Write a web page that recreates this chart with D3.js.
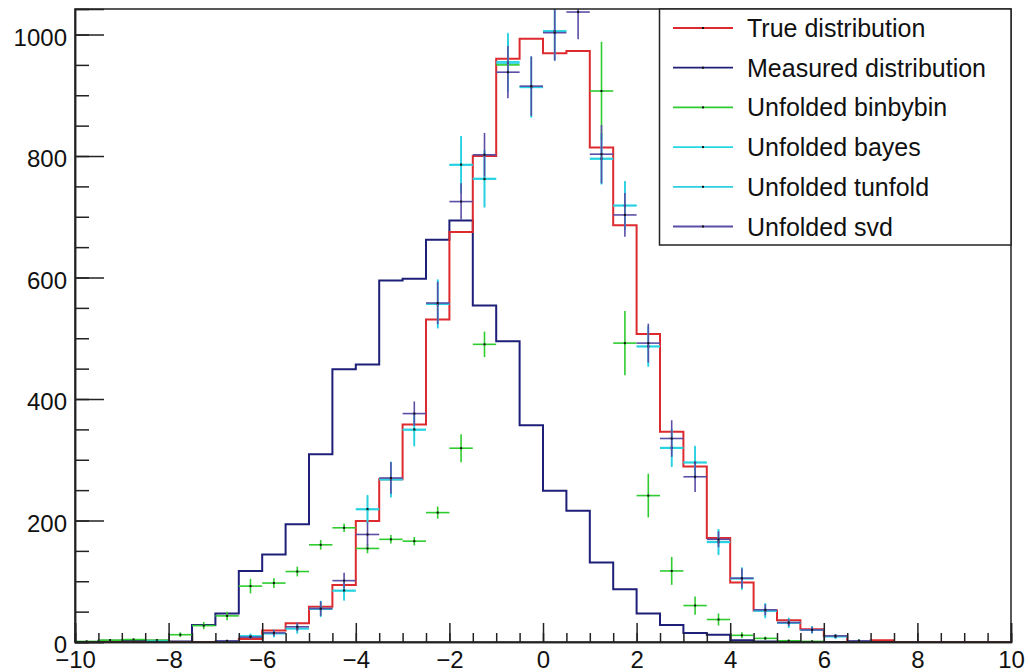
<!DOCTYPE html>
<html>
<head>
<meta charset="utf-8">
<script src="https://cdn.jsdelivr.net/npm/d3@7"></script>
<style>
  body { margin: 0; background: #fff; }
  svg { display: block; font-family: "Liberation Sans", Arial, Helvetica, sans-serif; }
</style>
</head>
<body>
<svg id="chart" width="1030" height="672"></svg>
<script>
// bin edges: 40 bins of width 0.5 between -10 and 10
var binLow = d3.range(40).map(function(i){ return -10 + 0.5*i; });
var binWidth = 0.5;

var trueDist = [0,0,0,0,0,0,1,5,19,31,58,94,199,268,358,531,675,800,960,993,
                969,973,814,686,507,346,289,171,98,52,36,21,10,1,3,0,0,0,0,0];
var measured = [0,2,3,2,1,28,47,117,144,194,309,449,457,595,598,662,694,554,495,357,
                249,216,131,87,47,28,15,12,3,1,1,0,0,0,0,0,0,0,0,0];

var binbybin = [1,3,4,3,12,27,43,92,97,116,160,188,154,169,166,213,319,490,950,null,
                null,null,907,492,241,117,60,37,11,6,2,1,null,null,null,null,null,null,null,null];
var binbybinErr = [1,2,2,2,4,6,7,12,8,8,8,7,8,7,7,10,23,21,40,null,
                null,null,81,53,36,23,15,10,5,3,2,1,null,null,null,null,null,null,null,null];

var bayes = [null,null,null,1,null,null,1,10,14,22,55,84,218,268,349,557,785,763,955,913,
             1005,null,795,719,486,319,296,164,105,51,32,20,9,2,null,null,null,null,null,null];
var bayesErr = [null,null,null,1,null,null,1,4,6,8,13,16,23,29,27,40,47,47,48,50,
             48,null,42,40,33,31,27,21,18,12,8,6,4,2,null,null,null,null,null,null];

var tunfold = [null,null,null,1,null,null,1,9,14,22,54,85,219,267,350,556,786,762,953,914,
             1006,null,796,718,487,320,295,165,104,52,31,20,9,2,null,null,null,null,null,null];
var tunfoldErr = [null,null,null,1,null,null,1,4,6,8,13,16,23,29,27,40,47,47,48,50,
             48,null,42,40,33,31,27,21,18,12,8,6,4,2,null,null,null,null,null,null];

var svd = [null,null,null,null,null,null,2,8,15,25,55,101,177,270,376,558,725,802,938,915,
           1003,1037,803,703,492,335,272,169,105,53,32,20,10,2,null,null,null,null,null,null];
var svdErr = [null,null,null,null,null,null,1,3,5,7,12,13,20,26,20,35,30,36,43,49,
           46,45,48,36,32,30,25,13,16,9,6,5,3,1,null,null,null,null,null,null];

var xMajor = [-10,-8,-6,-4,-2,0,2,4,6,8,10];
var yMajor = [0,200,400,600,800,1000];

var legendNames = ["True distribution","Measured distribution","Unfolded binbybin",
                   "Unfolded bayes","Unfolded tunfold","Unfolded svd"];
var colors = ["#dd2a2e","#1e1f78","#2fcc2f","#22d8e6","#2ad0e0","#5a4fa6"];

(function(){
var svg = d3.select("#chart");
var pLeft = 75, pRight = 1011, pTop = 9, pBottom = 642;

var x = d3.scaleLinear().domain([-10,10]).range([pLeft,pRight]);
var y = d3.scaleLinear().domain([0,1042]).range([pBottom,pTop]);

svg.append("defs").append("clipPath").attr("id","plotclip")
  .append("rect").attr("x",pLeft).attr("y",pTop).attr("width",pRight-pLeft).attr("height",pBottom-pTop);

var plot = svg.append("g").attr("clip-path","url(#plotclip)");

// step outline of a histogram
function stepPath(vals){
  var p = d3.path();
  p.moveTo(x(binLow[0]), y(vals[0]));
  vals.forEach(function(v,i){
    if (i>0) p.lineTo(x(binLow[i]), y(v));
    p.lineTo(x(binLow[i]+binWidth), y(v));
  });
  return p.toString();
}

plot.append("path").attr("d",stepPath(measured))
  .attr("fill","none").attr("stroke",colors[1]).attr("stroke-width",2);
plot.append("path").attr("d",stepPath(trueDist))
  .attr("fill","none").attr("stroke",colors[0]).attr("stroke-width",2);

// points with error bars
function drawPoints(vals, errs, color){
  var g = plot.append("g");
  vals.forEach(function(v,i){
    if (v == null) return;
    var cx = x(binLow[i]+binWidth/2), e = errs[i] || 0;
    g.append("line")
      .attr("x1",x(binLow[i])).attr("x2",x(binLow[i]+binWidth))
      .attr("y1",y(v)).attr("y2",y(v))
      .attr("stroke",color).attr("stroke-width",1.6);
    g.append("line")
      .attr("x1",cx).attr("x2",cx)
      .attr("y1",y(v-e)).attr("y2",y(v+e))
      .attr("stroke",color).attr("stroke-width",1.6);
    g.append("rect").attr("x",cx-1).attr("y",y(v)-1).attr("width",2).attr("height",2)
      .attr("fill","#111");
  });
}
drawPoints(binbybin, binbybinErr, colors[2]);
drawPoints(bayes, bayesErr, colors[3]);
drawPoints(tunfold, tunfoldErr, colors[4]);
drawPoints(svd, svdErr, colors[5]);

// frame
svg.append("rect").attr("x",pLeft).attr("y",pTop).attr("width",pRight-pLeft).attr("height",pBottom-pTop)
  .attr("fill","none").attr("stroke","#222").attr("stroke-width",1.5);

// axes (ticks pointing inward)
var fmt = d3.format("d");
svg.append("g").attr("transform","translate(0,"+pBottom+")")
  .call(d3.axisBottom(x).tickValues(xMajor).tickSize(-19).tickPadding(9).tickFormat(fmt));
svg.append("g").attr("transform","translate(0,"+pBottom+")")
  .call(d3.axisBottom(x).tickValues(d3.range(-10,10.01,0.5)).tickSize(-9).tickFormat(""));
var yAxis = svg.append("g").attr("transform","translate("+pLeft+",0)")
  .call(d3.axisLeft(y).tickValues(yMajor).tickSize(-29).tickPadding(8).tickFormat(fmt));
svg.append("g").attr("transform","translate("+pLeft+",0)")
  .call(d3.axisLeft(y).tickValues(d3.range(0,1001,50)).tickSize(-14).tickFormat(""));

svg.selectAll(".domain").attr("stroke","#222").attr("stroke-width",1.5);
svg.selectAll(".tick line").attr("stroke","#222").attr("stroke-width",1.5);
svg.selectAll(".tick text").attr("font-size",24).attr("fill","#111")
  .style("font-family","'Liberation Sans', Arial, sans-serif");
yAxis.selectAll(".tick text").attr("dy","0.45em");

// legend
var leg = svg.append("g");
leg.append("rect").attr("x",659.5).attr("y",pTop).attr("width",pRight-659.5).attr("height",236)
  .attr("fill","#fff").attr("stroke","#222").attr("stroke-width",1.5);
legendNames.forEach(function(name,i){
  var cy = 28 + i*39.7;
  leg.append("line").attr("x1",673).attr("x2",733).attr("y1",cy).attr("y2",cy)
    .attr("stroke",colors[i]).attr("stroke-width",1.8);
  leg.append("rect").attr("x",702).attr("y",cy-1).attr("width",2).attr("height",2).attr("fill","#111");
  leg.append("text").attr("x",747).attr("y",cy+9)
    .attr("font-size",25).attr("fill","#111").text(name);
});
})();
</script>
</body>
</html>
